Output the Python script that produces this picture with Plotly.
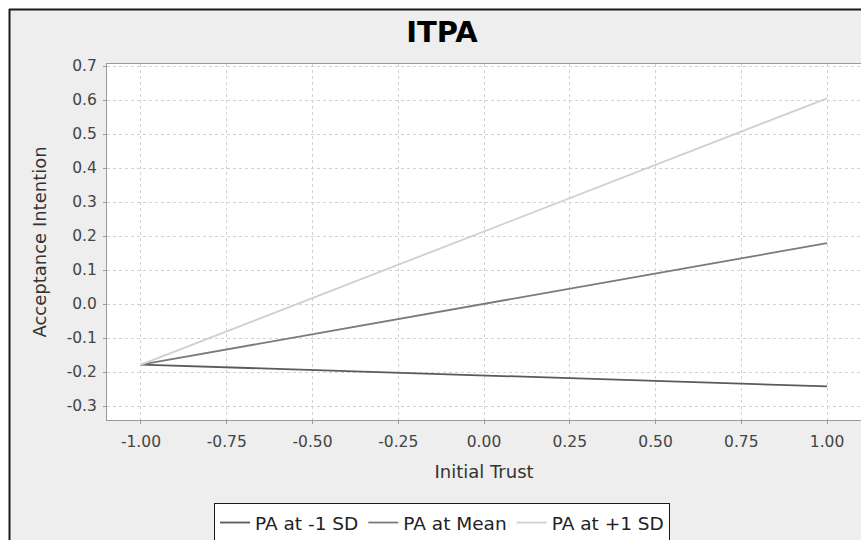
import plotly.graph_objects as go

# Data
x_vals = [-1.0, 1.0]
pa_low = [-0.178, -0.242]
pa_mean = [-0.178, 0.179]
pa_high = [-0.178, 0.605]
series_names = ["PA at -1 SD", "PA at Mean", "PA at +1 SD"]
series_colors = ["#5a5a5a", "#7a7a7a", "#cfcfcf"]

x_tick_vals = [-1.0, -0.75, -0.5, -0.25, 0.0, 0.25, 0.5, 0.75, 1.0]
x_tick_text = ["-1.00", "-0.75", "-0.50", "-0.25", "0.00", "0.25", "0.50", "0.75", "1.00"]
y_tick_vals = [-0.3, -0.2, -0.1, 0.0, 0.1, 0.2, 0.3, 0.4, 0.5, 0.6, 0.7]
y_tick_text = ["-0.3", "-0.2", "-0.1", "0.0", "0.1", "0.2", "0.3", "0.4", "0.5", "0.6", "0.7"]

W, H = 861, 540
L, R, T, B = 107, 0, 64, 120

fig = go.Figure()
for name, ys, col in zip(series_names, [pa_low, pa_mean, pa_high], series_colors):
    fig.add_trace(go.Scatter(x=x_vals, y=ys, mode="lines", name=name,
                             line=dict(color=col, width=1.8)))

FONT = "DejaVu Sans"
grid = dict(showgrid=True, gridcolor="#d2d2d2", griddash="3px,3px", gridwidth=1,
            showline=True, linecolor="#9a9a9a", linewidth=1, mirror=True,
            ticks="outside", ticklen=3, tickcolor="#9a9a9a", zeroline=False,
            tickfont=dict(family=FONT, size=15.5, color="#444444"))

fig.update_xaxes(range=[-1.099, 1.099], tickvals=x_tick_vals, ticktext=x_tick_text,
                 ticklabelstandoff=4,
                 title=dict(text="Initial Trust", font=dict(family=FONT, size=18, color="#333333"), standoff=15),
                 **grid)
fig.update_yaxes(range=[-0.341, 0.706], tickvals=y_tick_vals, ticktext=y_tick_text,
                 ticklabelstandoff=3,
                 title=dict(text="Acceptance Intention", font=dict(family=FONT, size=18, color="#333333"), standoff=15),
                 **grid)

def px_x(p):
    return (p - L) / (W - L - R)

def px_y(p):
    return (H - B - p) / (H - T - B)

shapes = [
    # white outer strips
    dict(type="rect", xref="paper", yref="paper", x0=px_x(-5), x1=px_x(9), y0=px_y(600), y1=px_y(-5),
         fillcolor="white", line=dict(width=0), layer="below"),
    dict(type="rect", xref="paper", yref="paper", x0=px_x(-5), x1=px_x(900), y0=px_y(9), y1=px_y(-5),
         fillcolor="white", line=dict(width=0), layer="below"),
    # black border lines
    dict(type="line", xref="paper", yref="paper", x0=px_x(9.5), x1=px_x(9.5), y0=px_y(9), y1=px_y(600),
         line=dict(color="#1a1a1a", width=2), layer="below"),
    dict(type="line", xref="paper", yref="paper", x0=px_x(9), x1=px_x(900), y0=px_y(9.5), y1=px_y(9.5),
         line=dict(color="#1a1a1a", width=2), layer="below"),
]

fig.update_layout(
    width=W, height=H,
    margin=dict(l=L, r=R, t=T, b=B, autoexpand=False),
    paper_bgcolor="#eeeeee", plot_bgcolor="white",
    title=dict(text="<b>ITPA</b>", x=442 / W, xanchor="center", xref="container",
               y=1 - 32 / H, yanchor="middle", yref="container",
               font=dict(family=FONT, size=29, color="#000000")),
    showlegend=True,
    legend=dict(orientation="h", xref="container", yref="container",
                x=442 / W, xanchor="center", y=1 - 503 / H, yanchor="top",
                bgcolor="white", bordercolor="#1a1a1a", borderwidth=1,
                font=dict(family=FONT, size=18.5, color="#222222"),
                itemwidth=30, tracegroupgap=0),
    shapes=shapes,
)

fig.write_html("out.html",
               config={"displayModeBar": False},
               post_script="document.body.style.margin='0';document.body.style.padding='0';"
                           "document.body.style.overflow='hidden';"
                           "document.documentElement.style.overflow='hidden';")
